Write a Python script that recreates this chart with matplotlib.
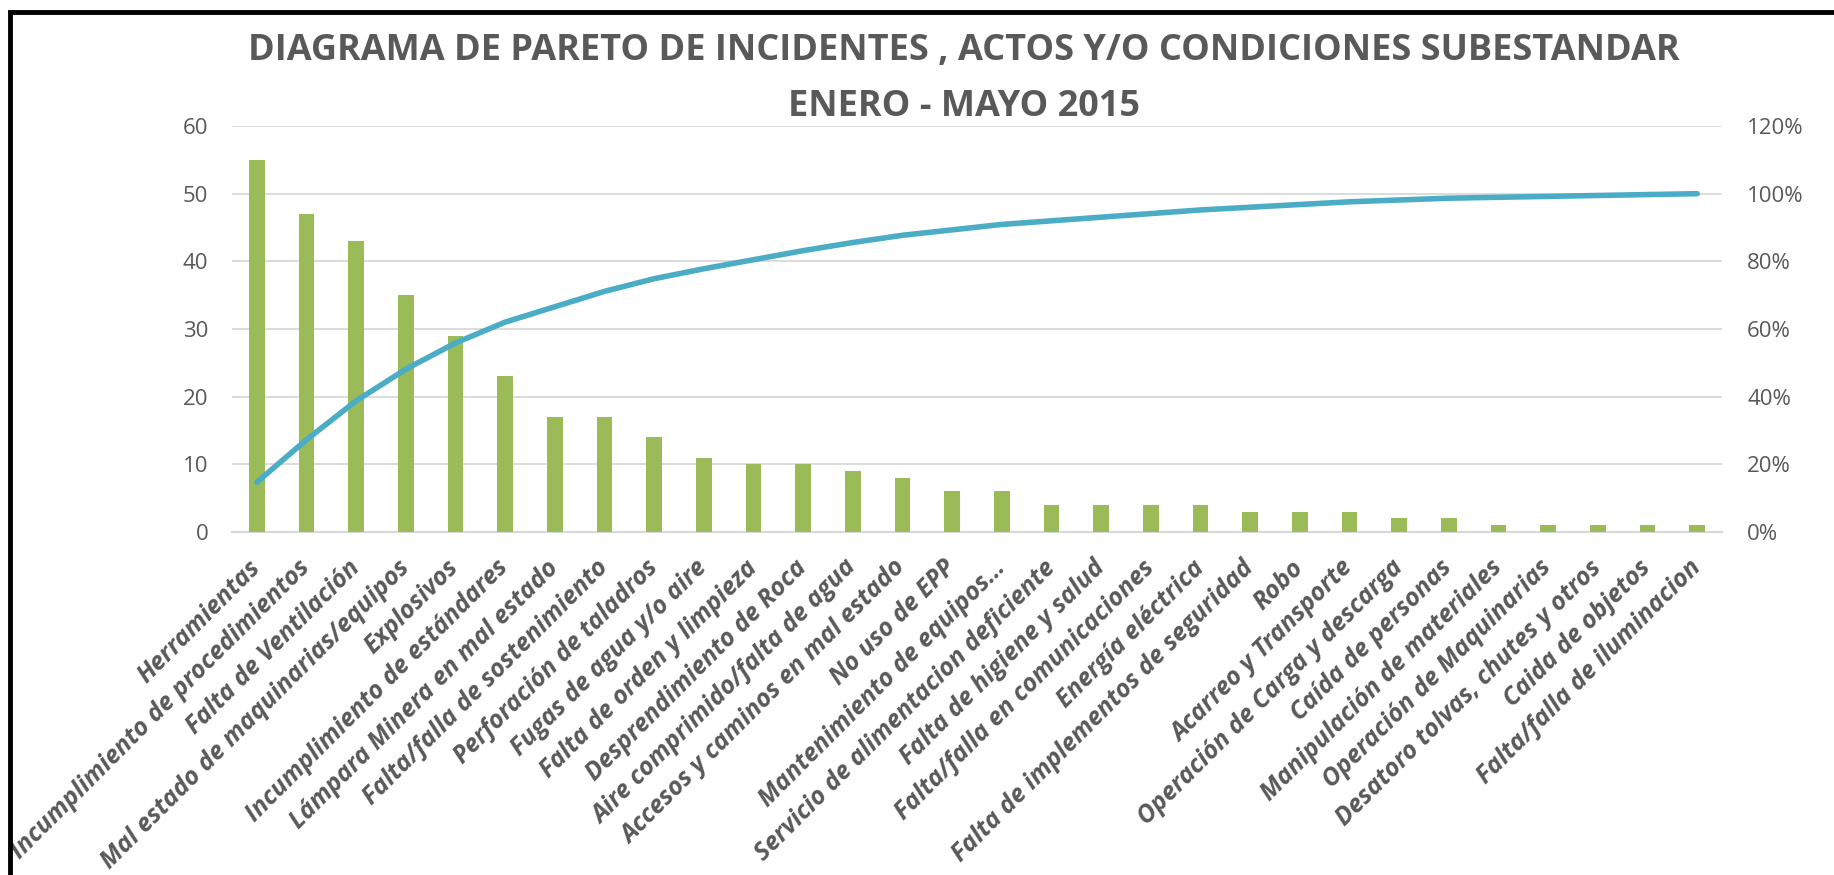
import numpy as np
import matplotlib
matplotlib.use('Agg')
import matplotlib.pyplot as plt
from matplotlib.patches import Rectangle
from matplotlib.ticker import PercentFormatter
from matplotlib.transforms import ScaledTranslation

categorias = ['Herramientas',
'Incumplimiento de procedimientos',
'Falta de Ventilación',
'Mal estado de maquinarias/equipos',
'Explosivos',
'Incumplimiento de estándares',
'Lámpara Minera en mal estado',
'Falta/falla de sostenimiento',
'Perforación de taladros',
'Fugas de agua y/o aire',
'Falta de orden y limpieza',
'Desprendimiento de Roca',
'Aire comprimido/falta de agua',
'Accesos y caminos en mal estado',
'No uso de EPP',
'Mantenimiento de equipos…',
'Servicio de alimentacion deficiente',
'Falta de higiene y salud',
'Falta/falla en comunicaciones',
'Energía eléctrica',
'Falta de implementos de seguridad',
'Robo',
'Acarreo y Transporte',
'Operación de Carga y descarga',
'Caída de personas',
'Manipulación de materiales',
'Operación de Maquinarias',
'Desatoro tolvas, chutes y otros',
'Caida de objetos',
'Falta/falla de iluminacion']

cantidad = [55, 47, 43, 35, 29, 23, 17, 17, 14, 11, 10, 10, 9, 8, 6, 6,
            4, 4, 4, 4, 3, 3, 3, 2, 2, 1, 1, 1, 1, 1]

titulo = 'DIAGRAMA DE PARETO DE INCIDENTES , ACTOS Y/O CONDICIONES SUBESTANDAR\nENERO - MAYO 2015'

# porcentaje acumulado (pareto)
acumulado = np.cumsum(cantidad) / np.sum(cantidad) * 100

plt.rcParams['font.family'] = ['Open Sans', 'DejaVu Sans']
gris = '#595959'

fig = plt.figure(figsize=(18.34, 8.75), dpi=100)
ax1 = fig.add_axes([232/1834, 1-532/875, (1722-232)/1834, (532-126)/875])

x = np.arange(len(categorias))
ax1.bar(x, cantidad, width=0.31, color='#9BBB59', zorder=3)
ax1.set_xlim(-0.5, len(categorias)-0.5)
ax1.set_ylim(0, 60)
ax1.set_yticks(range(0, 61, 10))
ax1.grid(axis='y', color='#D9D9D9', linewidth=1.3, zorder=0)
for s in ['top', 'right', 'left']:
    ax1.spines[s].set_visible(False)
ax1.spines['bottom'].set_color('#D9D9D9')
ax1.spines['bottom'].set_linewidth(1.6)
ax1.tick_params(axis='y', length=0, pad=17, labelsize=16, labelcolor=gris)
ax1.tick_params(axis='x', length=0, pad=6)
ax1.set_xticks(x)
ax1.set_xticklabels(categorias, rotation=45, ha='right', va='top',
                    rotation_mode='anchor', fontsize=18, fontweight='bold',
                    fontstyle='italic', color=gris)
# mover etiquetas un poco abajo/izquierda
desplaz = ScaledTranslation(-0.09, -0.15, fig.dpi_scale_trans)
for lbl in ax1.get_xticklabels():
    lbl.set_transform(lbl.get_transform() + desplaz)

ax2 = ax1.twinx()
ax2.plot(x, acumulado, color='#4BACC6', linewidth=4, solid_capstyle='round', zorder=4)
ax2.set_ylim(0, 120)
ax2.set_yticks(range(0, 121, 20))
ax2.yaxis.set_major_formatter(PercentFormatter(decimals=0))
for s in ['top', 'right', 'left', 'bottom']:
    ax2.spines[s].set_visible(False)
ax2.tick_params(axis='y', length=0, pad=18, labelsize=16, labelcolor=gris)

fig.text(964/1834, 1-79/875, titulo, ha='center', va='center', fontsize=26,
         fontweight='bold', color=gris, linespacing=1.72)

# marco negro del grafico
fig.patches.append(Rectangle((10/1834, -0.1), 1.2, 1.1-12/875, transform=fig.transFigure,
                             fill=False, edgecolor='black', linewidth=3.5, clip_on=False))

fig.savefig('out.png', dpi=100)
